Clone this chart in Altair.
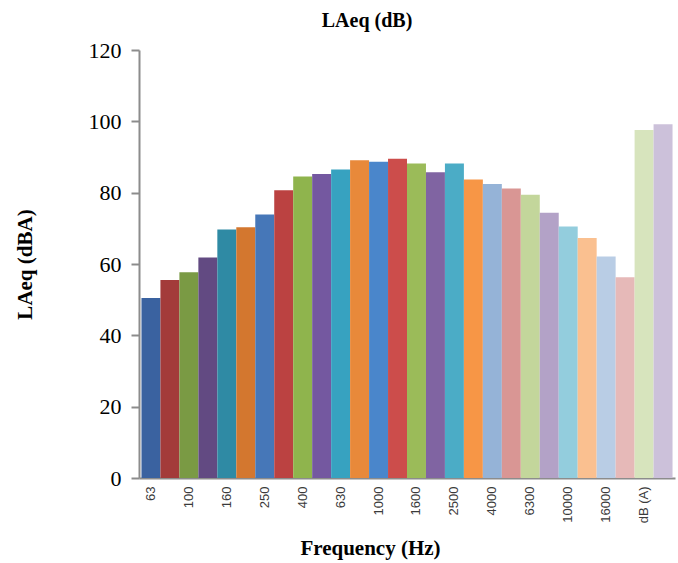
import altair as alt
import pandas as pd

freqs = ["63", "80", "100", "125", "160", "200", "250", "315", "400", "500",
         "630", "800", "1000", "1250", "1600", "2000", "2500", "3150", "4000",
         "5000", "6300", "8000", "10000", "12500", "16000", "20000", "dB (A)", "dB (C)"]
levels = [50.5, 55.5, 57.7, 61.8, 69.7, 70.3, 73.9, 80.7, 84.5, 85.2,
          86.5, 89.1, 88.7, 89.5, 88.2, 85.7, 88.2, 83.7, 82.4,
          81.2, 79.4, 74.4, 70.5, 67.3, 62.1, 56.3, 97.6, 99.2]
colors = ["#3a62a0", "#a33b3a", "#7a9a44", "#624a82", "#2f8aa4", "#d3772f",
          "#4677b8", "#bb4241", "#8fb44d", "#7458a0", "#37a2c0", "#e8893a",
          "#4a86cb", "#cc4d4b", "#9bbb59", "#8064a2", "#4bacc6", "#f79646",
          "#95b3d7", "#d99694", "#c3d69b", "#b3a2c7", "#93cddd", "#fac090",
          "#b9cde5", "#e6b9b8", "#d7e4bd", "#ccc1da"]
y_ticks = [0, 20, 40, 60, 80, 100, 120]

df = pd.DataFrame({"freq": freqs, "level": levels})

serif = "Liberation Serif"

chart = alt.Chart(df).mark_bar(strokeWidth=0).encode(
    x=alt.X("freq:N", sort=freqs,
            scale=alt.Scale(paddingInner=0, paddingOuter=0.13),
            axis=alt.Axis(title="Frequency (Hz)", values=freqs[::2],
                          labelAngle=-90, labelFont="Liberation Sans",
                          labelFontSize=13, labelColor="#3a3a3a",
                          labelPadding=8, ticks=False,
                          domainColor="#8c8c8c", domainWidth=2,
                          titleFont=serif, titleFontSize=21, titleFontWeight="bold",
                          titleColor="#000000", titleX=231, titleY=70,
                          titleAlign="center", titleBaseline="middle")),
    y=alt.Y("level:Q",
            scale=alt.Scale(domain=[0, 120], nice=False),
            axis=alt.Axis(title="LAeq (dBA)", values=y_ticks, grid=False,
                          labelFont=serif, labelFontSize=22, labelColor="#000000",
                          labelPadding=10, tickSize=8, tickColor="#8c8c8c",
                          tickWidth=2, domainColor="#8c8c8c", domainWidth=2,
                          titleFont=serif, titleFontSize=21, titleFontWeight="bold",
                          titleColor="#000000", titleX=-114, titleY=214,
                          titleAngle=-90, titleAlign="center",
                          titleBaseline="middle")),
    color=alt.Color("freq:N", sort=freqs,
                    scale=alt.Scale(domain=freqs, range=colors), legend=None),
).properties(
    width=536,
    height=428,
    title=alt.TitleParams("LAeq (dB)", font=serif, fontSize=20, fontWeight="bold",
                          color="#000000", anchor="middle", dx=-40, offset=8),
    autosize=alt.AutoSizeParams(type="none"),
    padding={"left": 139, "top": 50, "right": 3, "bottom": 85},
).configure(background="#ffffff").configure_view(stroke=None, strokeWidth=0)

chart.save("out.html", embed_options={"renderer": "svg", "actions": False})
